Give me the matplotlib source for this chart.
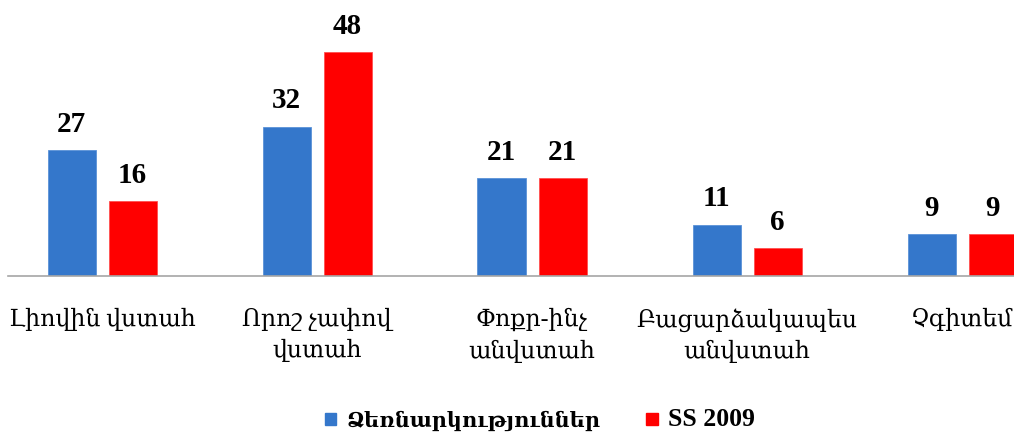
import matplotlib
matplotlib.use("Agg")
import matplotlib.pyplot as plt
from matplotlib.patches import Patch
import numpy as np

categories = ["Լիովին վստահ", "Որոշ չափով\nվստահ", "Փոքր-ինչ\nանվստահ", "Բացարձակապես\nանվստահ", "Չգիտեմ"]
series_names = ["Ձեռնարկություններ", "SS 2009"]
enterprises = [27, 32, 21, 11, 9]
ss2009 = [16, 48, 21, 6, 9]

blue = "#3477CB"
red = "#FF0000"
fams = ["Liberation Serif", "DejaVu Serif"]

W, H = 1014, 437
fig = plt.figure(figsize=(W / 100, H / 100), dpi=100)
left_px, base_px, top_px = 8, 276, 30
ax = fig.add_axes([left_px / W, (H - base_px) / H, (W - left_px) / W, (base_px - top_px) / H])

unit = 215.0
x = np.arange(len(categories))
bw = 48 / unit
off = 30.5 / unit
ax.bar(x - off, enterprises, bw, color=blue, edgecolor="#5a92d8", linewidth=0.6, zorder=2)
ax.bar(x + off, ss2009, bw, color=red, edgecolor="#ff5050", linewidth=0.6, zorder=2)

ax.set_xlim((left_px - 102) / unit, (W - 102) / unit)
ppu = (276 - 150) / 27.0
ax.set_ylim(0, (base_px - top_px) / ppu)

for xi, v in zip(x, enterprises):
    ax.annotate(str(v), (xi - off, v), xytext=(0, 9), textcoords="offset points",
                ha="center", va="bottom", fontsize=21, fontweight="bold", family=fams)
for xi, v in zip(x, ss2009):
    ax.annotate(str(v), (xi + off, v), xytext=(0, 9), textcoords="offset points",
                ha="center", va="bottom", fontsize=21, fontweight="bold", family=fams)

for s in ["top", "right", "left"]:
    ax.spines[s].set_visible(False)
ax.spines["bottom"].set_color("#a6a6a6")
ax.spines["bottom"].set_linewidth(1.2)
ax.set_yticks([])
ax.set_xticks(x)
ax.set_xticklabels(categories, fontsize=17, family=fams, linespacing=1.45)
ax.tick_params(axis="x", length=0, pad=23)

handles = [Patch(facecolor=blue, edgecolor=blue), Patch(facecolor=red, edgecolor=red)]
leg = fig.legend(handles, series_names, loc="center", bbox_to_anchor=(540 / W, 1 - 420 / H),
                 ncol=2, frameon=False, handlelength=0.55, handleheight=0.55, handletextpad=0.5,
                 columnspacing=2.2, prop={"family": fams, "size": 15, "weight": "bold"})
leg.get_texts()[1].set_fontsize(18.5)

fig.savefig("out.png", dpi=100)
